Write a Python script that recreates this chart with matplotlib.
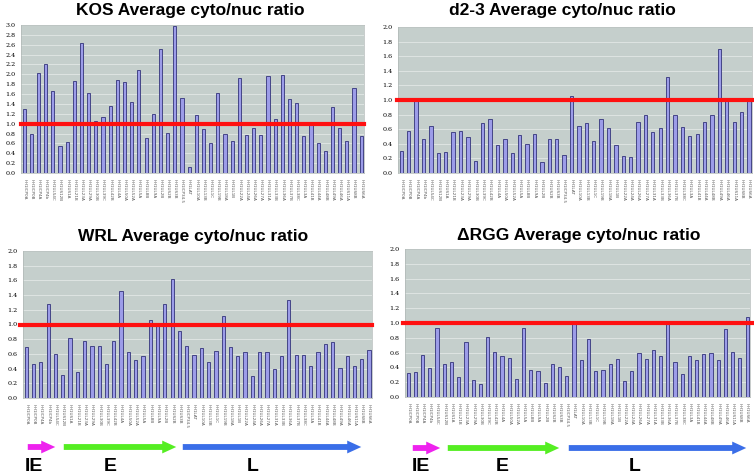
import matplotlib
matplotlib.use("Agg")
import matplotlib.pyplot as plt
from matplotlib.patches import FancyArrowPatch

# ===================== DADOS =====================
genes = ["HH1ICP0A", "HH1ICP0B", "HH1ICP4A", "HH1ICP4b", "HH1UL54C", "HH1US12B",
         "HH1US1A", "HH1UL21B", "HH1UL23A", "HH1UL29A", "HH1UL30B", "HH1UL39C",
         "HH1UL42B", "HH1UL4A", "HH1UL50A", "HH1UL52A", "HH1UL5A", "HH1UL8B",
         "HH1UL9A", "HH1UL2B", "HH1US2B", "HH1US3B", "HH1ICP34.5", "HH1LAT",
         "HH1UL10A", "HH1UL13B", "HH1UL1C", "HH1UL19B", "HH1UL18A", "HH1UL1B",
         "HH1UL22A", "HH1UL24A", "HH1UL26A", "HH1UL27A", "HH1UL31A", "HH1UL33B",
         "HH1UL36A", "HH1UL37B", "HH1UL38C", "HH1UL3A", "HH1UL41B", "HH1UL44A",
         "HH1UL48B", "HH1UL49A", "HH1UL46A", "HH1US11A", "HH1US8B", "HH1US6A"]

kos = [1.30, 0.80, 2.03, 2.21, 1.66, 0.55, 0.62, 1.86, 2.64, 1.62, 1.05, 1.13,
       1.35, 1.88, 1.84, 1.43, 2.09, 0.71, 1.20, 2.52, 0.82, 2.98, 1.52, 0.12,
       1.18, 0.90, 0.60, 1.62, 0.80, 0.64, 1.92, 0.78, 0.92, 0.78, 1.97, 1.09,
       1.99, 1.49, 1.42, 0.74, 1.00, 0.60, 0.44, 1.33, 0.92, 0.64, 1.72, 0.75]

d23 = [0.30, 0.58, 1.00, 0.46, 0.65, 0.28, 0.29, 0.56, 0.57, 0.49, 0.17, 0.69,
       0.74, 0.38, 0.47, 0.28, 0.52, 0.40, 0.54, 0.15, 0.46, 0.47, 0.24, 1.06,
       0.64, 0.69, 0.44, 0.74, 0.61, 0.38, 0.23, 0.22, 0.70, 0.80, 0.56, 0.62,
       1.32, 0.79, 0.63, 0.51, 0.53, 0.70, 0.80, 1.70, 1.00, 0.70, 0.83, 1.02]

wrl = [0.70, 0.46, 0.49, 1.28, 0.60, 0.31, 0.82, 0.35, 0.78, 0.71, 0.71, 0.46,
       0.78, 1.46, 0.62, 0.52, 0.57, 1.06, 1.00, 1.28, 1.62, 0.91, 0.71, 0.59,
       0.68, 0.49, 0.64, 1.12, 0.70, 0.57, 0.63, 0.30, 0.63, 0.63, 0.40, 0.57,
       1.34, 0.59, 0.59, 0.44, 0.63, 0.74, 0.76, 0.41, 0.57, 0.44, 0.53, 0.65]

drgg = [0.32, 0.34, 0.57, 0.39, 0.93, 0.45, 0.47, 0.27, 0.75, 0.23, 0.18, 0.81,
        0.61, 0.55, 0.53, 0.24, 0.93, 0.36, 0.35, 0.19, 0.45, 0.40, 0.28, 1.00,
        0.50, 0.78, 0.35, 0.37, 0.45, 0.52, 0.22, 0.35, 0.59, 0.52, 0.64, 0.56,
        1.02, 0.47, 0.31, 0.56, 0.50, 0.58, 0.60, 0.50, 0.92, 0.61, 0.53, 1.08]

titulos = ["KOS Average cyto/nuc ratio", "d2-3 Average cyto/nuc ratio",
           "WRL Average cyto/nuc ratio", "\u0394RGG Average cyto/nuc ratio"]
fases = ["IE", "E", "L"]

# ===================== ESTILO =====================
W, H = 754, 473
cor_fundo = "#c5cfcc"
cor_barra = "#9c9ce8"
cor_borda = "#33337a"
cor_linha = "#ff1010"
cores_fase = ["#ee22ee", "#55ee22", "#3a6ee8"]

fig = plt.figure(figsize=(W / 100, H / 100), dpi=100)


def eixo(x0, x1, y0, y1):
    # caixa em pixels (y de cima para baixo)
    return fig.add_axes([x0 / W, 1 - y1 / H, (x1 - x0) / W, (y1 - y0) / H])


def painel(ax, valores, titulo, ymax, tx, ty, linha_x=(0.0, 1.0)):
    x = list(range(len(valores)))
    ax.set_facecolor(cor_fundo)
    ax.bar(x, valores, width=0.44, color=cor_barra, edgecolor=cor_borda,
           linewidth=0.6, zorder=3)
    ax.set_xlim(-0.45, len(valores) - 0.6)
    ax.set_ylim(0, ymax)
    ticks = [i * 0.2 for i in range(int(round(ymax / 0.2)) + 1)]
    ax.set_yticks(ticks)
    ax.set_yticklabels(["%.1f" % t for t in ticks], fontsize=4.6,
                       family="DejaVu Serif")
    ax.set_xticks(x)
    ax.set_xticklabels(genes, rotation=270, fontsize=3.0, va="top",
                       ha="center", color="#555555")
    ax.tick_params(length=0, pad=4)
    ax.grid(axis="y", color="#e2e8e6", linewidth=0.6, zorder=0)
    for s in ax.spines.values():
        s.set_color("#b0b8b6")
        s.set_linewidth(0.5)
    ax.axhline(1.0, xmin=linha_x[0], xmax=linha_x[1], color=cor_linha,
               linewidth=3.0, zorder=4, clip_on=False)
    fig.text(tx / W, 1 - ty / H, titulo, fontsize=12.5, fontweight="bold",
             family="Liberation Sans", ha="center", va="center")


ax1 = eixo(21, 364, 25, 173)
painel(ax1, kos, titulos[0], 3.0, 190, 10)
ax2 = eixo(398, 752, 27, 173)
painel(ax2, d23, titulos[1], 2.0, 562, 11, (-0.003, 1.0))
ax3 = eixo(23, 372, 251, 398)
painel(ax3, wrl, titulos[2], 2.0, 193, 236, (-0.008, 1.0))
ax4 = eixo(405, 750, 249, 397)
painel(ax4, drgg, titulos[3], 2.0, 579, 235, (-0.006, 1.012))


# ===================== SETAS =====================
def setas(segmentos, y, textos_x, ty):
    for (xa, xb), cor in zip(segmentos, cores_fase):
        seta = FancyArrowPatch((xa / W, 1 - y / H), (xb / W, 1 - y / H),
                               transform=fig.transFigure,
                               arrowstyle="simple,head_width=2.2,head_length=2.4,tail_width=1.0",
                               mutation_scale=4.2, color=cor, linewidth=0)
        fig.add_artist(seta)
    for nome, tx in zip(fases, textos_x):
        fig.text(tx / W, 1 - ty / H, nome, fontsize=14, fontweight="bold",
                 family="Liberation Sans", ha="center", va="center")


setas([(25, 58), (61, 179), (180, 364)], 447, [34, 110, 253], 466)
setas([(410, 443), (445, 562), (566, 749)], 448, [421, 502, 635], 466)

fig.savefig("out.png", dpi=100)
